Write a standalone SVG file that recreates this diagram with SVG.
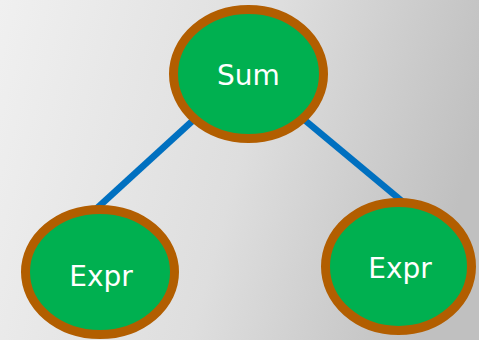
<svg xmlns="http://www.w3.org/2000/svg" width="479" height="340" viewBox="0 0 479 340">
  <defs>
    <linearGradient id="bg" x1="0" y1="0" x2="479" y2="130" gradientUnits="userSpaceOnUse">
      <stop offset="0" stop-color="#f0f0f0"/>
      <stop offset="0.55" stop-color="#dedede"/>
      <stop offset="1" stop-color="#c0c0c0"/>
    </linearGradient>
  </defs>
  <style>
    .node { fill: #00b050; stroke: #b25e00; stroke-width: 9; }
    .edge { stroke: #0070c0; stroke-width: 6.5; fill: none; }
    .label { fill: #ffffff; font-family: "DejaVu Sans", Verdana, sans-serif; font-size: 28px; text-anchor: middle; }
  </style>
  <rect x="0" y="0" width="479" height="340" fill="url(#bg)"/>
  <g id="connectors">
    <line class="edge" x1="200" y1="114" x2="95" y2="210"/>
    <line class="edge" x1="301" y1="117" x2="403" y2="202"/>
  </g>
  <g id="sum">
    <ellipse class="node" cx="248.5" cy="74" rx="75" ry="64.5"/>
    <text class="label" x="248.5" y="85">Sum</text>
  </g>
  <g id="expr-left">
    <ellipse class="node" cx="100" cy="272" rx="74.5" ry="62.5"/>
    <text class="label" x="101" y="286">Expr</text>
  </g>
  <g id="expr-right">
    <ellipse class="node" cx="398.5" cy="266.5" rx="73" ry="64"/>
    <text class="label" x="400" y="278">Expr</text>
  </g>
</svg>
